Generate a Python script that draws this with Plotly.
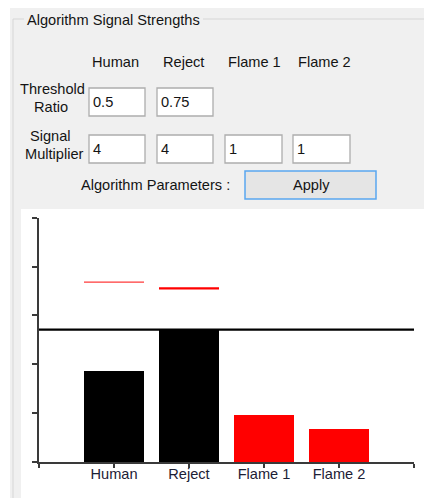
import plotly.graph_objects as go

W, H = 424, 498

# ---- data ----
categories = ["Human", "Reject", "Flame 1", "Flame 2"]
signal_values = [1.86, 2.70, 0.96, 0.69]
threshold_categories = ["Human", "Reject"]
threshold_values = [3.68, 3.555]
reference_level = 2.71
y_ticks = [0, 1, 2, 3, 4, 5]

column_headers = ["Human", "Reject", "Flame 1", "Flame 2"]
threshold_ratio_inputs = ["0.5", "0.75"]
signal_multiplier_inputs = ["4", "4", "1", "1"]

# ---- styles ----
bar_colors = ["#000000", "#000000", "#ff0000", "#ff0000"]
threshold_styles = [dict(color="#ff3a3a", width=1.3), dict(color="#ff0000", width=2.3)]
FONT = "Liberation Sans"
FS = 14.6
TXT = "#141414"

positions = list(range(1, len(categories) + 1))
x_min, x_max = 0, len(categories) + 1

fig = go.Figure()
fig.add_trace(go.Bar(x=positions, y=signal_values, width=0.8,
                     marker=dict(color=bar_colors, line=dict(width=0)),
                     hoverinfo="skip"))
for cat, val, st in zip(threshold_categories, threshold_values, threshold_styles):
    p = positions[categories.index(cat)]
    fig.add_trace(go.Scatter(x=[p - 0.4, p + 0.4], y=[val, val], mode="lines",
                             line=st, hoverinfo="skip"))
fig.add_trace(go.Scatter(x=[x_min, x_max], y=[reference_level, reference_level],
                         mode="lines", line=dict(color="#000000", width=2.3),
                         hoverinfo="skip", cliponaxis=False))

shapes = []
annotations = []


def px_x(x):
    return x / W


def px_y(y):
    return 1 - y / H


def rect(x0, y0, x1, y1, fill, line=None, lw=0):
    shapes.append(dict(type="rect", xref="paper", yref="paper",
                       x0=px_x(x0), x1=px_x(x1), y0=px_y(y1), y1=px_y(y0),
                       fillcolor=fill,
                       line=dict(color=line or fill, width=lw),
                       layer="below"))


def hline(x0, x1, y, color, w=1):
    shapes.append(dict(type="line", xref="paper", yref="paper",
                       x0=px_x(x0), x1=px_x(x1), y0=px_y(y), y1=px_y(y),
                       line=dict(color=color, width=w), layer="below"))


def vline(x, y0, y1, color, w=1):
    shapes.append(dict(type="line", xref="paper", yref="paper",
                       x0=px_x(x), x1=px_x(x), y0=px_y(y0), y1=px_y(y1),
                       line=dict(color=color, width=w), layer="below"))


def text(t, x, y, anchor="center", color=TXT, size=FS):
    annotations.append(dict(text=t, xref="paper", yref="paper",
                            x=px_x(x), y=px_y(y), xanchor=anchor, yanchor="middle",
                            showarrow=False,
                            font=dict(family=FONT, size=size, color=color)))


# window background edges
rect(0, 0, 10, H + 1, "#ffffff")
rect(0, 0, W + 1, 8, "#ffffff")
# group box
hline(13, 24, 19, "#d6d6d6")
hline(203, W + 1, 19, "#d6d6d6")
vline(13, 19, H + 1, "#d6d6d6")
text("Algorithm Signal Strengths", 25, 20, anchor="left")

# column headers
for h, cx in zip(column_headers, [115, 183, 255, 324]):
    text(h, cx, 62)

# row labels
text("Threshold", 52, 89)
text("Ratio", 51, 107)
text("Signal", 50, 136)
text("Multiplier", 54, 154)

box_x = [(89, 145), (157, 213), (225, 282), (293, 350)]
for (x0, x1), v in zip(box_x, threshold_ratio_inputs):
    rect(x0, 88, x1, 116, "#ffffff", "#adadad", 1.3)
    text(v, x0 + 2, 102, anchor="left")
for (x0, x1), v in zip(box_x, signal_multiplier_inputs):
    rect(x0, 135, x1, 163, "#ffffff", "#adadad", 1.3)
    text(v, x0 + 2, 149, anchor="left")

text("Algorithm Parameters :", 79, 185, anchor="left")
rect(245, 171, 376, 199, "#e5e5e5", "#5aa6f0", 1.5)
text("Apply", 311, 185)

# chart panel
rect(21, 209, W + 1, H + 1, "#ffffff")

axis_col = "#3a3a3a"
fig.update_layout(
    width=W, height=H,
    margin=dict(l=0, r=0, t=0, b=0),
    paper_bgcolor="#f0f0f0",
    plot_bgcolor="#ffffff",
    showlegend=False,
    bargap=0,
    shapes=shapes,
    annotations=annotations,
    xaxis=dict(domain=[39 / W, 414 / W], range=[x_min, x_max],
               tickmode="array", tickvals=[x_min] + positions + [x_max],
               ticktext=[""] + categories + [""],
               ticks="outside", ticklen=4, tickwidth=1.5, tickcolor=axis_col,
               ticklabelstandoff=-6,
               showline=True, linecolor=axis_col, linewidth=1.5,
               showgrid=False, zeroline=False, fixedrange=True,
               tickfont=dict(family=FONT, size=FS, color="#1c2035")),
    yaxis=dict(domain=[1 - 462 / H, 1 - 217.7 / H], range=[y_ticks[0], y_ticks[-1]],
               tickmode="array", tickvals=y_ticks, showticklabels=False,
               ticks="outside", ticklen=5, tickwidth=1.5, tickcolor=axis_col,
               showline=True, linecolor=axis_col, linewidth=1.5,
               showgrid=False, zeroline=False, fixedrange=True),
)

fig.write_html("out.html", config={"displayModeBar": False},
               post_script="document.body.style.margin='0';document.body.style.overflow='hidden';")
